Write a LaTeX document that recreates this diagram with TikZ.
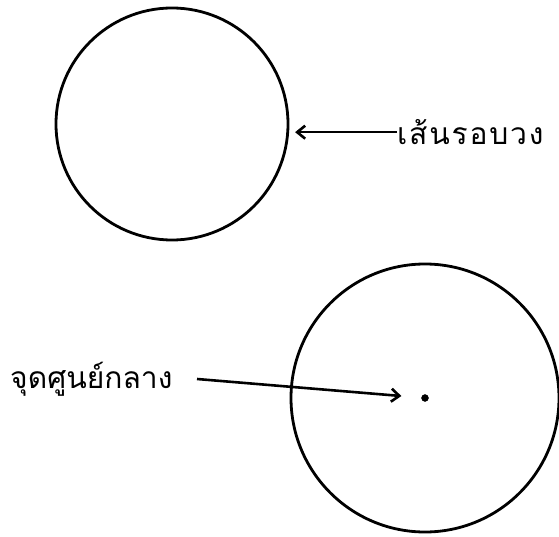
\documentclass[tikz,border=0pt]{standalone}
\usepackage{fontspec}
\newfontfamily\thaifont[Script=Thai, LetterSpace=6]{Loma}
\newfontfamily\thaitight[Script=Thai]{Loma}
\usepackage{tikz}
\usetikzlibrary{arrows.meta, positioning, calc}

\tikzset{
  ring/.style={draw, circle, line width=2.8pt, inner sep=0pt},
  thailabel/.style={font=\thaifont\fontsize{30}{34}\selectfont, inner sep=0pt},
  tightlabel/.style={thailabel, font=\thaitight\fontsize{30}{34}\selectfont},
  pointer/.style={-{Straight Barb[length=8pt, width=13pt, line width=2.6pt]}, line width=2.6pt}
}

\begin{document}
\begin{tikzpicture}[x=1pt, y=1pt]
  \useasboundingbox (0,0) rectangle (559,536);

  % Upper circle
  \node[ring, minimum size=232pt] (rim) at (172, 412) {};
  \node[thailabel, anchor=base west] (perim) at (397, 391) {เส้นรอบวง};
  \draw[pointer, shorten >=6pt] (perim.west |- rim.-4) -- (rim.-4);

  % Lower circle
  \node[ring, minimum size=268pt] (disc) at (425, 138) {};
  \node[draw, circle, fill, inner sep=0pt, minimum size=7pt] (centre) at (425, 138) {};
  \node[tightlabel, anchor=base west] (centrelabel) at (10, 148) {จุดศูนย์กลาง};
  \coordinate (tail) at (197, 157);
  \draw[pointer, shorten >=20pt] (tail) -- (centre);
\end{tikzpicture}
\end{document}
